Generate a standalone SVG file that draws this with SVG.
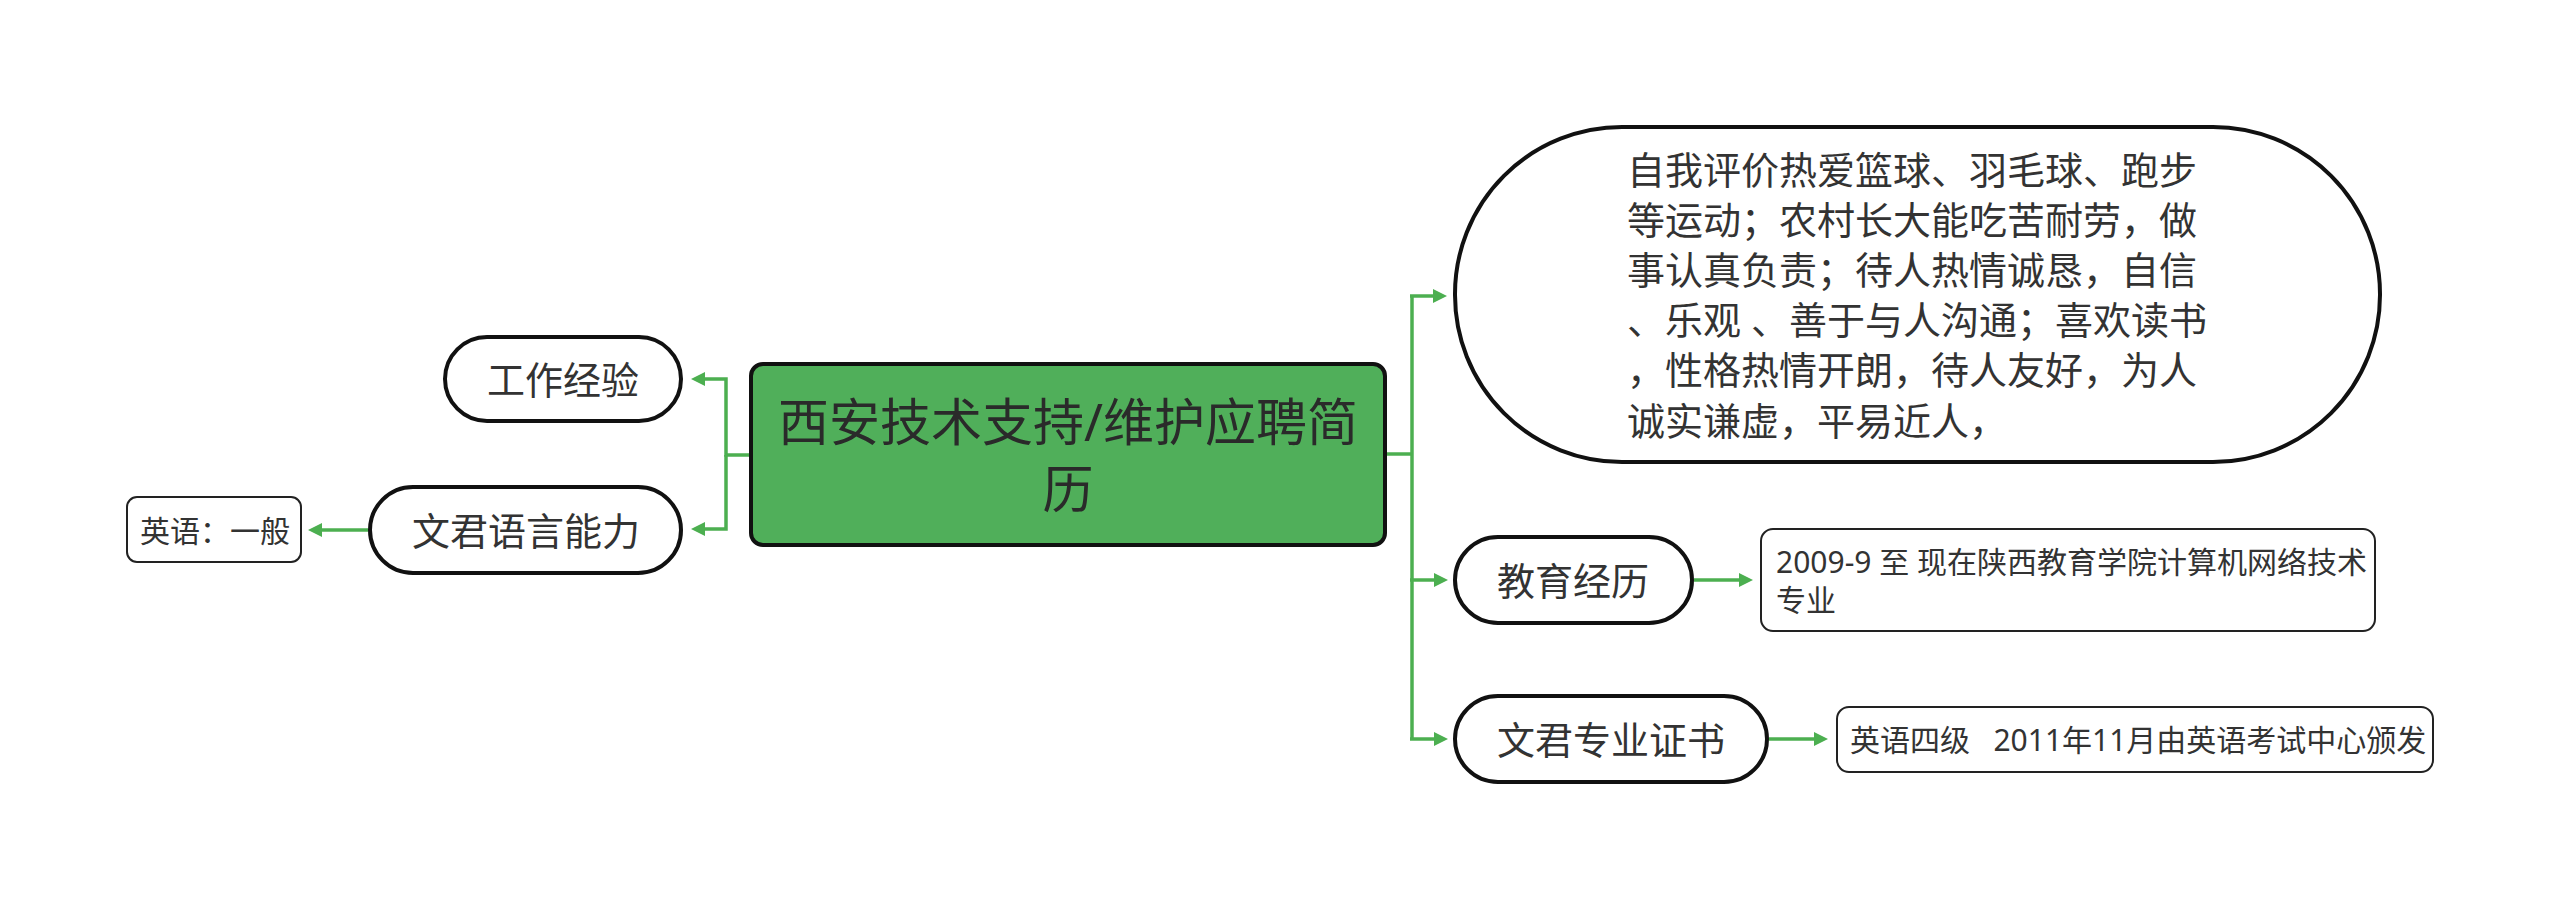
<svg xmlns="http://www.w3.org/2000/svg" width="2560" height="909" viewBox="0 0 2560 909">
<style>
  text { font-family: "Noto Sans", "Noto Sans CJK SC", sans-serif; fill: #333; dominant-baseline: central; }
  .root rect { fill: #50AF5A; stroke: #111; stroke-width: 4; }
  .root text { font-size: 51px; fill: #2a2a2a; text-anchor: middle; }
  .pill rect { fill: #fff; stroke: #111; stroke-width: 4; }
  .pill text { font-size: 38px; text-anchor: middle; }
  .big text { text-anchor: start; }
  .leaf rect { fill: #fff; stroke: #222; stroke-width: 2; }
  .leaf text { font-size: 30px; text-anchor: start; }
  .conn path { fill: none; stroke: #4CAF50; stroke-width: 3.5; }
</style>
<defs>
  <marker id="arr" viewBox="0 0 14 14" refX="7" refY="7" markerWidth="14" markerHeight="14" markerUnits="userSpaceOnUse" orient="auto">
    <path d="M0,0 L14,7 L0,14 Z" fill="#4CAF50"/>
  </marker>
</defs>
<rect width="2560" height="909" fill="#fff"/>

<g class="conn" id="connectors">
  <path d="M751 455 H726 V379 H698" marker-end="url(#arr)"/>
  <path d="M726 455 V529 H698" marker-end="url(#arr)"/>
  <path d="M368 530 H315" marker-end="url(#arr)"/>
  <path d="M1385 454 H1412"/>
  <path d="M1412 296 V739"/>
  <path d="M1410 296 H1440" marker-end="url(#arr)"/>
  <path d="M1410 580 H1441" marker-end="url(#arr)"/>
  <path d="M1410 739 H1441" marker-end="url(#arr)"/>
  <path d="M1694 580 H1746" marker-end="url(#arr)"/>
  <path d="M1769 739 H1821" marker-end="url(#arr)"/>
</g>

<g id="root" class="root">
  <rect x="751" y="364" width="634" height="181" rx="12"/>
  <text x="1068" y="421">西安技术支持/维护应聘简</text>
  <text x="1068" y="488">历</text>
</g>

<g id="work" class="pill">
  <rect x="445" y="337" width="236" height="84" rx="42"/>
  <text x="563" y="379">工作经验</text>
</g>

<g id="lang" class="pill">
  <rect x="370" y="487" width="311" height="86" rx="43"/>
  <text x="526" y="530">文君语言能力</text>
</g>

<g id="lang-en" class="leaf">
  <rect x="127" y="497" width="174" height="65" rx="10"/>
  <text x="140" y="530">英语：一般</text>
</g>

<g id="self" class="pill big">
  <rect x="1455" y="127" width="925" height="335" rx="167"/>
  <text x="1627" y="169">自我评价热爱篮球、羽毛球、跑步</text>
  <text x="1627" y="219">等运动；农村长大能吃苦耐劳，做</text>
  <text x="1627" y="269">事认真负责；待人热情诚恳，自信</text>
  <text x="1627" y="319" xml:space="preserve">、乐观 、善于与人沟通；喜欢读书</text>
  <text x="1627" y="369">，性格热情开朗，待人友好，为人</text>
  <text x="1627" y="420">诚实谦虚，平易近人，</text>
</g>

<g id="edu" class="pill">
  <rect x="1455" y="537" width="237" height="86" rx="43"/>
  <text x="1573" y="580">教育经历</text>
</g>

<g id="edu-detail" class="leaf">
  <rect x="1761" y="529" width="614" height="102" rx="12"/>
  <text x="1776" y="561">2009-9 至 现在陕西教育学院计算机网络技术</text>
  <text x="1776" y="599">专业</text>
</g>

<g id="cert" class="pill">
  <rect x="1455" y="696" width="312" height="86" rx="43"/>
  <text x="1611" y="739">文君专业证书</text>
</g>

<g id="cert-detail" class="leaf">
  <rect x="1837" y="707" width="596" height="65" rx="12"/>
  <text x="1850" y="739" xml:space="preserve">英语四级   2011年11月由英语考试中心颁发</text>
</g>
</svg>
